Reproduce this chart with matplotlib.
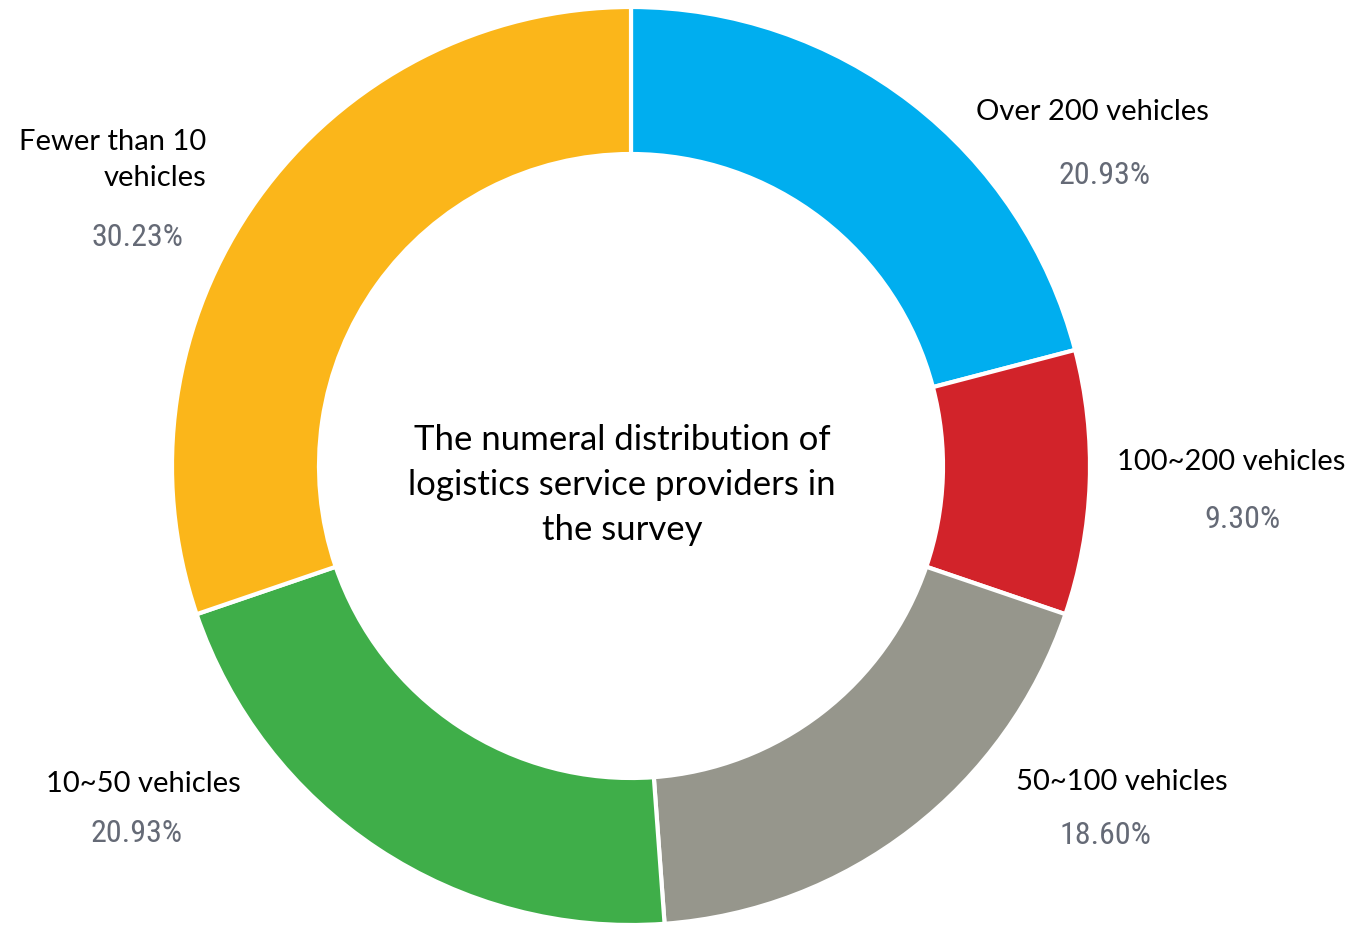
import matplotlib.pyplot as plt

# Survey shares, clockwise from 12 o'clock
categories = ['Over 200 vehicles', '100~200 vehicles', '50~100 vehicles',
              '10~50 vehicles', 'Fewer than 10\nvehicles']
shares = [20.93, 9.30, 18.60, 20.93, 30.23]
colors = ['#00aeef', '#d2232a', '#96968c', '#3fae49', '#fbb61a']

center_title = 'The numeral distribution of\nlogistics service providers in\nthe survey'

W, H = 1360, 925
fig = plt.figure(figsize=(W / 100, H / 100), dpi=100)
ax = fig.add_axes([0, 0, 1, 1])

cx, cy, r = 631, H - 466, 459

ax.pie(shares, colors=colors, startangle=90, counterclock=False,
       center=(cx, cy), radius=r, frame=True,
       wedgeprops=dict(width=147, edgecolor='white', linewidth=3))
ax.set_xlim(0, W)
ax.set_ylim(0, H)
ax.set_aspect('equal')
ax.axis('off')

# label anchor spots (pixel coords from the top)
name_pos = [(1092, 112, 'center'), (1231, 462, 'center'), (1122, 782, 'center'),
            (143, 784, 'center'), (206, 160, 'right')]
pct_pos = [(1104, 176), (1242, 519), (1105, 835), (137, 834), (137, 237)]

label_font = ['Lato', 'DejaVu Sans']
pct_font = ['Liberation Sans Narrow', 'Roboto Condensed', 'DejaVu Sans Condensed',
            'Roboto', 'DejaVu Sans']

for name, val, (x, y, ha), (px, py) in zip(categories, shares, name_pos, pct_pos):
    ax.text(x, H - y, name, ha=ha, va='center', fontsize=21,
            family=label_font, color='black', linespacing=1.5,
            multialignment='right')
    ax.text(px, H - py, f'{val:.2f}%', ha='center', va='center',
            fontsize=23, family=pct_font, stretch='condensed', color='#656a76')

ax.text(622, H - 485, center_title, ha='center', va='center', fontsize=25,
        family=label_font, color='black', linespacing=1.5)

fig.savefig('out.png', dpi=100)
